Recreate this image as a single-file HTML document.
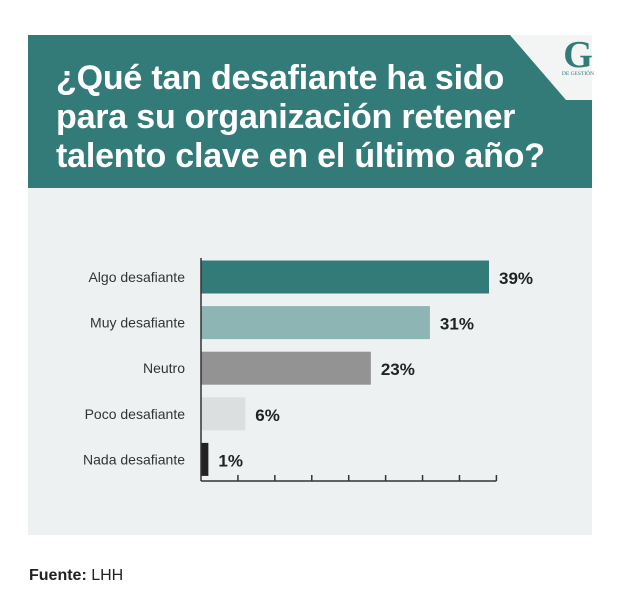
<!DOCTYPE html><html><head><meta charset="utf-8"><style>
body{margin:0;width:620px;height:606px;background:#fff;font-family:"Liberation Sans",sans-serif;position:relative;overflow:hidden}
#hdr{position:absolute;left:28px;top:35px;width:564px;height:153px;background:#337b78}
#title{position:absolute;left:56px;top:59px;color:#fff;font-weight:bold;font-size:34px;line-height:39px;margin:0;letter-spacing:-0.2px}
#panel{position:absolute;left:28px;top:188px;width:564px;height:347px;background:#eef1f2}
#src{position:absolute;left:29px;top:567px;font-size:16px;color:#222}
</style></head><body>
<div id="hdr"></div>
<svg style="position:absolute;left:0;top:0" width="620" height="200">
<polygon points="510,35 592,35 592,100 566,100" fill="#f3f4f4"/>
<text x="578" y="67" text-anchor="middle" font-family="Liberation Serif" font-weight="bold" font-size="38" fill="#337b78">G</text>
<text x="578" y="75" text-anchor="middle" font-family="Liberation Serif" font-size="5.5" fill="#337b78">DE GESTIÓN</text>
</svg>
<h1 id="title">¿Qué tan desafiante ha sido<br>para su organización retener<br>talento clave en el último año?</h1>
<div id="panel"></div>
<svg id="chart" style="position:absolute;left:0;top:0" width="620" height="606"></svg>
<div id="src"><b>Fuente:</b> LHH</div>
<script>
const categories=["Algo desafiante","Muy desafiante","Neutro","Poco desafiante","Nada desafiante"];
const values=[39,31,23,6,1];
const colors=["#337b78","#8db5b3","#939393","#dcdfe0","#222222"];
const svg=document.getElementById('chart');const NS="http://www.w3.org/2000/svg";
const x0=201,pxPer=7.385,y0=277,step=45.6,bh=33,axisY=481;
const x=v=>x0+v*pxPer;
function mk(t,a){const e=document.createElementNS(NS,t);for(const k in a)e.setAttribute(k,a[k]);svg.appendChild(e);return e;}
categories.forEach((c,i)=>{
 const yc=y0+i*step;
 const r=mk('rect',{x:x0,y:yc-bh/2,width:x(values[i])-x0,height:bh,fill:colors[i]});
 
 
 const l=mk('text',{x:185,y:yc+5,'text-anchor':'end','font-size':14,fill:'#333'});l.textContent=c;
 
 
 const v=mk('text',{x:x(values[i])+10,y:yc+7,'font-size':17,'font-weight':'bold',fill:'#222'});v.textContent=values[i]+'%';
 
 
});
const ax=mk('line',{x1:x0,y1:axisY,x2:x(40),y2:axisY,stroke:'#333','stroke-width':1.5});


mk('line',{x1:x0,y1:258,x2:x0,y2:axisY,stroke:'#333','stroke-width':1.5});
for(let t=5;t<=40;t+=5){const tk=mk('line',{x1:x(t),y1:axisY-6,x2:x(t),y2:axisY,stroke:'#333','stroke-width':1.5});
 
 }
</script>
</body></html>
